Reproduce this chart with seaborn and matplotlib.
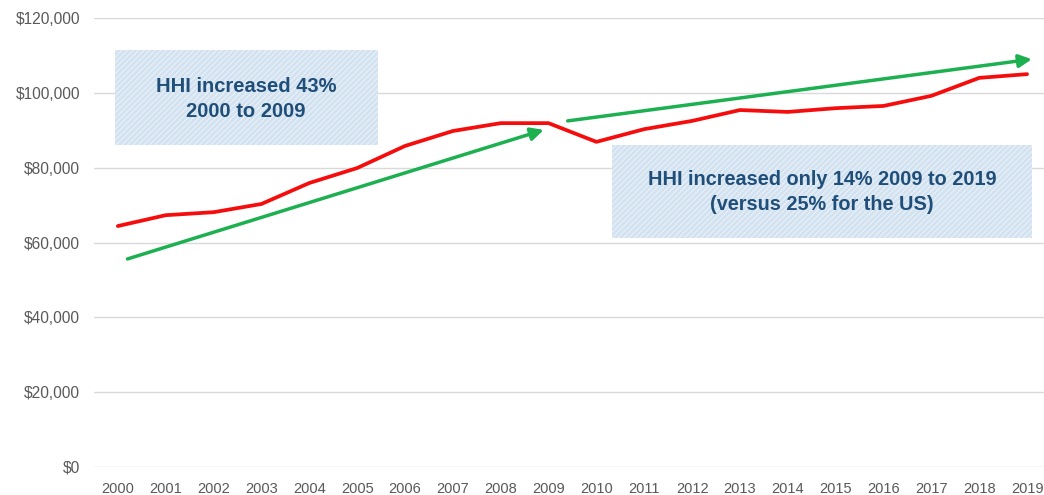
import matplotlib
matplotlib.use("Agg")
import matplotlib.pyplot as plt
import seaborn as sns
import pandas as pd
from matplotlib.patches import Rectangle
from matplotlib.ticker import FuncFormatter

# household income values
years = list(range(2000, 2020))
income = [64400, 67300, 68100, 70300, 75900, 79900, 85800, 89800, 91900, 91900,
          86900, 90300, 92500, 95400, 94900, 95900, 96500, 99200, 104000, 105000]

# trend arrows (start, end) in data units
arrow1_start = (2000.2, 55600)
arrow1_end = (2008.9, 90100)
arrow2_start = (2009.4, 92500)
arrow2_end = (2019.1, 109000)

note1 = "HHI increased 43%\n2000 to 2009"
note2 = "HHI increased only 14% 2009 to 2019\n(versus 25% for the US)"

df = pd.DataFrame({"year": years, "income": income})

sns.set_style("white")
plt.rcParams['font.family'] = ['Liberation Sans Narrow', 'Liberation Sans', 'DejaVu Sans']

fig = plt.figure(figsize=(10.44, 4.95), dpi=100)
ax = fig.add_axes([0.090, 0.0566, 0.9167, 0.907])

sns.lineplot(data=df, x="year", y="income", color="#F50D0D", linewidth=2.7, ax=ax, zorder=3)

ax.set_xlim(1999.5, 2019.5)
ax.set_ylim(0, 120000)
ax.set_yticks(range(0, 120001, 20000))
ax.set_xticks(years)
ax.yaxis.set_major_formatter(FuncFormatter(lambda v, p: "${:,.0f}".format(v)))
ax.grid(axis="y", color="#D9D9D9", linewidth=1)
ax.set_axisbelow(True)
for s in ax.spines.values():
    s.set_visible(False)
ax.tick_params(axis="both", length=0, colors="#595959")
ax.tick_params(axis="x", pad=11, labelsize=10.5)
ax.tick_params(axis="y", pad=10, labelsize=11.2)
ax.set_xlabel("")
ax.set_ylabel("")

# green trend arrows
for a, b in [(arrow1_start, arrow1_end), (arrow2_start, arrow2_end)]:
    ax.annotate("", xy=b, xytext=a,
                arrowprops=dict(arrowstyle="-|>", color="#1DB050", lw=2.5,
                                mutation_scale=19, shrinkA=0, shrinkB=0),
                zorder=4)

# note boxes
plt.rcParams['hatch.linewidth'] = 0.7
for (x0, y0, w, h) in [(0.022, 0.717, 0.275, 0.212), (0.541, 0.510, 0.439, 0.207)]:
    ax.add_patch(Rectangle((x0, y0), w, h, transform=ax.transAxes,
                           facecolor="#D3E2F0", edgecolor="#EDF3F9", hatch="//////",
                           linewidth=0, zorder=2))

ax.text(0.159, 0.820, note1, transform=ax.transAxes, ha="center", va="center",
        fontsize=14.5, fontweight="bold", color="#1F4E79", linespacing=1.4, zorder=5)
ax.text(0.761, 0.612, note2, transform=ax.transAxes, ha="center", va="center",
        fontsize=14.3, fontweight="bold", color="#1F4E79", linespacing=1.4, zorder=5)

fig.savefig("out.png", dpi=100)
